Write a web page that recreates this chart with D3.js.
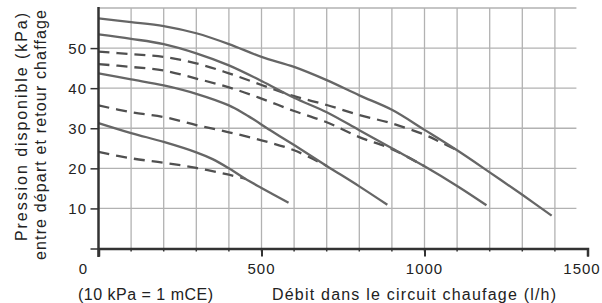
<!DOCTYPE html>
<html>
<head>
<meta charset="utf-8">
<script src="https://cdn.jsdelivr.net/npm/d3@7"></script>
<style>
  body { margin: 0; background: #fff; }
  text { font-family: "Liberation Sans", Arial, sans-serif; fill: #222; }
</style>
</head>
<body>
<svg width="602" height="303"></svg>
<script>
// tick values
var xTicks = [0, 500, 1000, 1500];
var yTicks = [10, 20, 30, 40, 50];
var xGrid = [100, 200, 300, 400, 500, 600, 700, 800, 900, 1000, 1100, 1200, 1300, 1400];
var yGrid = [10, 20, 30, 40, 50, 60];

// solid curves [débit l/h, pression kPa]
var solid1 = [[0, 57.4], [100, 56.5], [200, 55.5], [300, 53.7], [400, 51], [500, 47.8], [600, 45.3], [700, 42], [800, 38.2], [900, 34.6], [1000, 29.6], [1100, 24.5], [1200, 19], [1300, 13.4], [1390, 8.2]];
var solid2 = [[0, 53.4], [100, 52.3], [200, 51], [300, 48.7], [400, 45.7], [500, 41.8], [600, 37.6], [700, 34], [800, 29.5], [900, 25], [1000, 20.5], [1100, 15.6], [1190, 10.8]];
var solid3 = [[0, 43.7], [100, 42.2], [200, 40.7], [300, 38.6], [400, 35.7], [450, 33.5], [527, 29.5], [600, 25.8], [700, 20.6], [800, 15.5], [886, 10.9]];
var solid4 = [[0, 31.3], [100, 28.8], [200, 26.6], [300, 24], [350, 22.3], [400, 20], [450, 17.4], [500, 15.1], [583, 11.4]];

// dashed curves
var dash1 = [[0, 49.1], [100, 48.5], [200, 47.8], [300, 46.2], [400, 43.7], [500, 40.8], [600, 38], [700, 35.8], [800, 33.3], [900, 31.2], [1000, 28.4], [1050, 26.5], [1100, 24.5]];
var dash2 = [[0, 46], [100, 45.3], [200, 44.4], [300, 42.4], [400, 40.2], [500, 37.4], [600, 34.3], [700, 31.5], [800, 27.8], [900, 24.8], [1000, 20.5]];
var dash3 = [[0, 35.7], [100, 34], [200, 32.8], [300, 30.8], [400, 29], [500, 27], [600, 24.5], [700, 20.6]];
var dash4 = [[0, 24.1], [100, 22.5], [200, 21.4], [300, 20.1], [400, 18.4], [450, 17.4]];

var svg = d3.select('svg');
var x = d3.scaleLinear().domain([0, 1500]).range([98.5, 587.5]);
var y = d3.scaleLinear().domain([0, 60]).range([248.5, 8]);

// grid
svg.append('g').selectAll('line').data(xGrid).enter().append('line')
  .attr('x1', function(d){ return x(d); }).attr('x2', function(d){ return x(d); })
  .attr('y1', y(60)).attr('y2', y(0))
  .attr('stroke', '#b2b2b2').attr('stroke-width', 1.3);
svg.append('g').selectAll('line').data(yGrid).enter().append('line')
  .attr('x1', x(0)).attr('x2', x(1466))
  .attr('y1', function(d){ return y(d); }).attr('y2', function(d){ return y(d); })
  .attr('stroke', '#b2b2b2').attr('stroke-width', 1.3);

// curves
var line = d3.line()
  .x(function(d){ return x(d[0]); })
  .y(function(d){ return y(d[1]); })
  .curve(d3.curveCatmullRom.alpha(0.5));

[dash1, dash2, dash3, dash4].forEach(function(c){
  svg.append('path').attr('d', line(c))
    .attr('fill', 'none').attr('stroke', '#505050').attr('stroke-width', 2.3)
    .attr('stroke-dasharray', '11,7');
});
[solid1, solid2, solid3, solid4].forEach(function(c){
  svg.append('path').attr('d', line(c))
    .attr('fill', 'none').attr('stroke', '#666').attr('stroke-width', 2.3);
});

// axes
var xAxis = d3.axisBottom(x).tickValues(xTicks).tickSize(8).tickFormat('');
var gx = svg.append('g').attr('transform', 'translate(0,' + y(0) + ')').call(xAxis);
gx.select('.domain').attr('stroke', '#333').attr('stroke-width', 2.5);
gx.selectAll('.tick line').attr('stroke', '#333').attr('stroke-width', 2);
gx.selectAll('.tick').filter(function(d){ return d === 0; }).remove();

svg.append('g').selectAll('line').data(xGrid).enter().append('line')
  .attr('x1', function(d){ return x(d); }).attr('x2', function(d){ return x(d); })
  .attr('y1', y(0)).attr('y2', y(0) + 3)
  .attr('stroke', '#333').attr('stroke-width', 1.5);

var yAxis = d3.axisLeft(y).tickValues([0].concat(yTicks)).tickSize(8).tickFormat('');
var gy = svg.append('g').attr('transform', 'translate(' + x(0) + ',0)').call(yAxis);
gy.select('.domain').remove();
gy.selectAll('.tick line').attr('stroke', '#333').attr('stroke-width', 1.5);
svg.append('line').attr('x1', x(0)).attr('x2', x(0)).attr('y1', 7).attr('y2', 257)
  .attr('stroke', '#333').attr('stroke-width', 2.5);

// tick labels
svg.append('g').selectAll('text').data(yTicks).enter().append('text')
  .attr('x', 87).attr('y', function(d){ return y(d) + 5.5; })
  .attr('text-anchor', 'end').attr('font-size', 15).attr('letter-spacing', 1)
  .text(function(d){ return d; });
svg.append('g').selectAll('text').data(xTicks.slice(1)).enter().append('text')
  .attr('x', function(d){ return Math.min(x(d), 582); }).attr('y', 274)
  .attr('text-anchor', 'middle').attr('font-size', 15).attr('letter-spacing', 1)
  .text(function(d){ return d; });
svg.append('text').attr('x', 83).attr('y', 274).attr('text-anchor', 'middle')
  .attr('font-size', 15).text('0');

// titles
svg.append('text').attr('transform', 'translate(27,127) rotate(-90)')
  .attr('text-anchor', 'middle').attr('font-size', 16)
  .attr('textLength', 228).attr('lengthAdjust', 'spacing')
  .text('Pression disponible (kPa)');
svg.append('text').attr('transform', 'translate(46,135) rotate(-90)')
  .attr('text-anchor', 'middle').attr('font-size', 16)
  .attr('textLength', 250).attr('lengthAdjust', 'spacing')
  .text('entre départ et retour chaffage');
svg.append('text').attr('x', 78).attr('y', 300).attr('font-size', 16)
  .attr('textLength', 135).attr('lengthAdjust', 'spacing')
  .text('(10 kPa = 1 mCE)');
svg.append('text').attr('x', 272).attr('y', 300).attr('font-size', 16)
  .attr('textLength', 284).attr('lengthAdjust', 'spacing')
  .text('Débit dans le circuit chaufage (l/h)');
</script>
</body>
</html>
